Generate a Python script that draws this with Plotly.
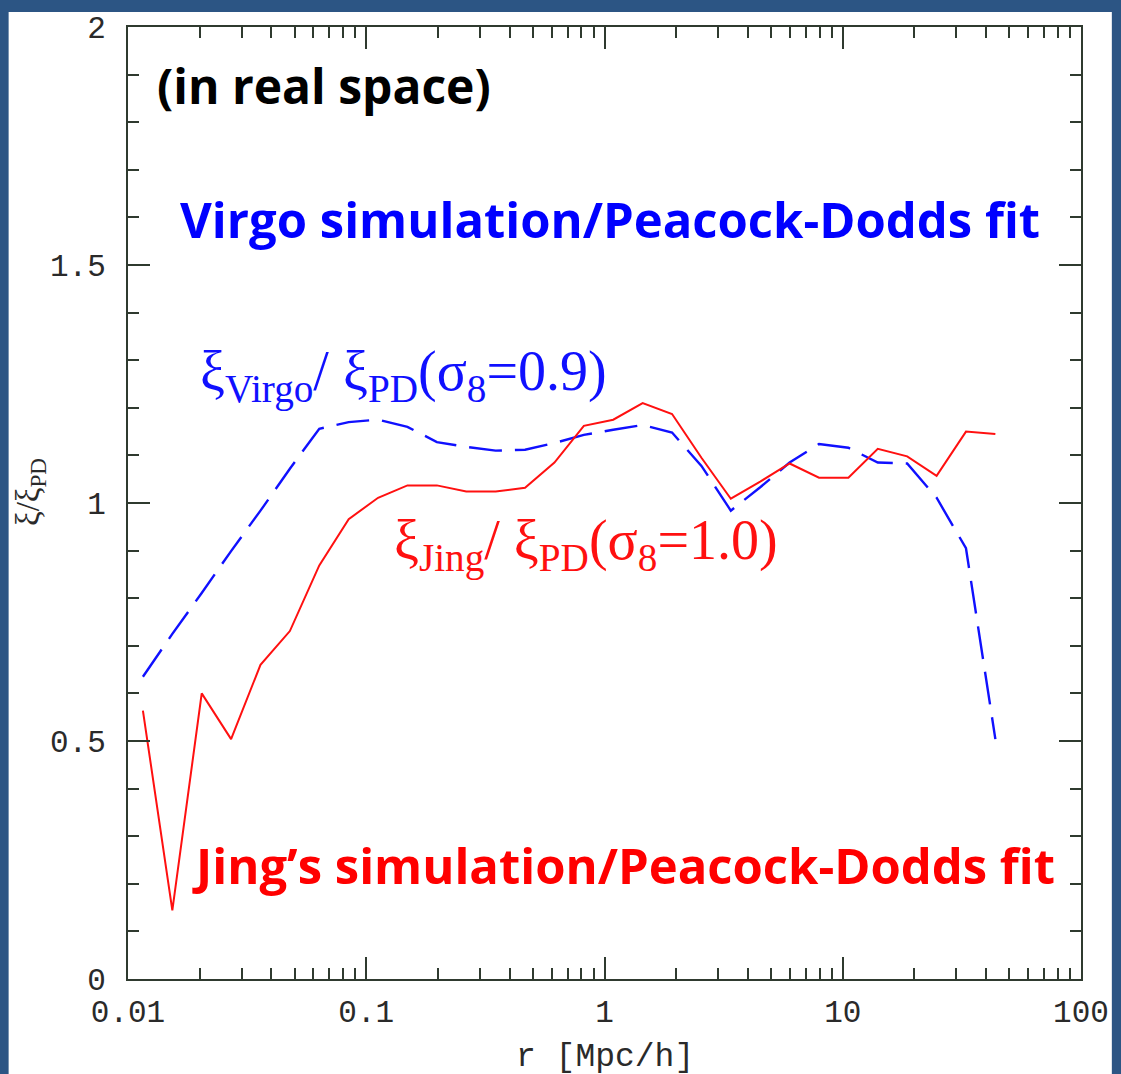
import plotly.graph_objects as go

# Separation r [Mpc/h] of the correlation-function bins
r_bins = [0.01155, 0.01535, 0.02039, 0.02708, 0.03598, 0.04780, 0.06351, 0.08439,
          0.1121, 0.1489, 0.1979, 0.2629, 0.3493, 0.4640, 0.6165, 0.8190,
          1.088, 1.446, 1.921, 2.552, 3.390, 4.504, 5.984, 7.951,
          10.56, 14.03, 18.64, 24.77, 32.90, 43.71]

# xi_Virgo / xi_PD  (sigma_8 = 0.9)
ratio_virgo = [0.635, 0.725, 0.811, 0.899, 0.984, 1.072, 1.156, 1.170,
               1.175, 1.160, 1.128, 1.118, 1.110, 1.112, 1.126, 1.143,
               1.154, 1.164, 1.148, 1.078, 0.984, 1.033, 1.085, 1.124,
               1.116, 1.085, 1.083, 1.011, 0.905, 0.504]

# xi_Jing / xi_PD  (sigma_8 = 1.0)
ratio_jing = [0.564, 0.144, 0.600, 0.504, 0.660, 0.731, 0.869, 0.966,
              1.011, 1.037, 1.037, 1.024, 1.024, 1.032, 1.085, 1.162,
              1.175, 1.210, 1.187, 1.095, 1.009, 1.045, 1.083, 1.053,
              1.053, 1.114, 1.098, 1.057, 1.150, 1.145]

x_major = [0.01, 0.1, 1, 10, 100]
x_major_text = ["0.01", "0.1", "1", "10", "100"]
x_minor = [m * 10.0 ** e for e in (-2, -1, 0, 1) for m in range(2, 10)]
y_major = [0, 0.5, 1, 1.5, 2]
y_major_text = ["0", "0.5", "1", "1.5", "2"]

W, H = 1121, 1074
ML, MR, MT, MB = 128, 35, 22, 95
PW, PH = W - ML - MR, H - MT - MB

def px(x):
    return (x - ML) / PW

def py(y):
    return (H - MB - y) / PH

AXIS = "#2f3a2f"
TICKFONT = dict(family="Liberation Mono", size=31, color="#2a2a2a")
FRAME = "#2c5584"
BLUE = "#1010ff"
RED = "#ff1010"

fig = go.Figure()

fig.add_trace(go.Scatter(
    x=r_bins, y=ratio_virgo, mode="lines",
    line=dict(color=BLUE, width=2.4, dash="33px,13px"),
    showlegend=False, hoverinfo="skip"))

fig.add_trace(go.Scatter(
    x=r_bins, y=ratio_jing, mode="lines",
    line=dict(color=RED, width=2),
    showlegend=False, hoverinfo="skip"))

axis_common = dict(
    showline=True, linecolor=AXIS, linewidth=2, mirror="ticks",
    ticks="inside", ticklen=22, tickwidth=1.5, tickcolor=AXIS,
    showgrid=False, zeroline=False, tickfont=TICKFONT,
)

fig.update_xaxes(
    type="log", range=[-2, 2],
    tickmode="array", tickvals=x_major, ticktext=x_major_text,
    minor=dict(ticks="inside", ticklen=11, tickwidth=1.5, tickcolor=AXIS,
               tickmode="array", tickvals=x_minor, showgrid=False),
    ticklabelstandoff=4,
    **axis_common)

fig.update_yaxes(
    range=[0, 2],
    tickmode="array", tickvals=y_major, ticktext=y_major_text,
    minor=dict(ticks="inside", ticklen=11, tickwidth=1.5, tickcolor=AXIS,
               dtick=0.1, showgrid=False),
    ticklabelstandoff=14,
    **axis_common)

annotations = [
    # axis titles
    dict(x=0.5, y=py(1058), text="r [Mpc/h]",
         font=dict(family="Liberation Mono", size=33, color="#2a2a2a")),
    dict(x=px(30), y=py(490), text="ξ/ξ<sub>PD</sub>", textangle=-90,
         font=dict(family="Liberation Serif", size=33, color="#2a2a2a")),
    # headings
    dict(x=px(155), y=py(81), text="(in real space)", xanchor="left",
         font=dict(family="Open Sans", size=48, color="black", weight=700)),
    dict(x=px(178), y=py(215), text="Virgo simulation/Peacock-Dodds fit",
         xanchor="left",
         font=dict(family="Open Sans", size=49, color="#0000ff", weight=700)),
    dict(x=px(190), y=py(864), text="Jing\u2019s simulation/Peacock-Dodds fit",
         xanchor="left",
         font=dict(family="Open Sans", size=49, color="#ff0000", weight=700)),
    # curve labels
    dict(x=px(198), y=py(372),
         text="ξ<sub>Virgo</sub>/ ξ<sub>PD</sub>(σ<sub>8</sub>=0.9)",
         xanchor="left",
         font=dict(family="Liberation Serif", size=56, color=BLUE)),
    dict(x=px(393), y=py(542),
         text="ξ<sub>Jing</sub>/ ξ<sub>PD</sub>(σ<sub>8</sub>=1.0)",
         xanchor="left",
         font=dict(family="Liberation Serif", size=56, color=RED)),
]
for a in annotations:
    a.update(xref="paper", yref="paper", showarrow=False,
             yanchor=a.get("yanchor", "middle"))
    a.setdefault("xanchor", "center")

fig.update_layout(
    width=W, height=H,
    margin=dict(l=ML, r=MR, t=MT, b=MB),
    paper_bgcolor=FRAME, plot_bgcolor="white",
    annotations=annotations,
    shapes=[dict(type="rect", xref="paper", yref="paper", layer="below",
                 x0=px(8), x1=px(1117), y0=py(1200), y1=py(7),
                 fillcolor="white", line=dict(width=0))],
)

fig.write_html("out.html")
